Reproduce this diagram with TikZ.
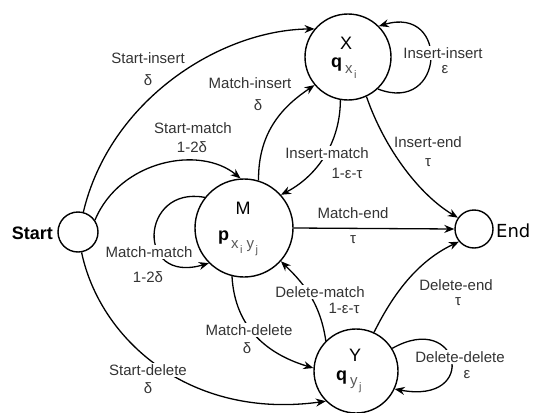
\documentclass[tikz,border=0pt]{standalone}
\usepackage{fontspec}
\setmainfont{Liberation Sans}
\newfontfamily\dejavu{DejaVu Sans}
\usetikzlibrary{arrows.meta}
\tikzset{
  state/.style={draw, circle, line width=1.4pt, inner sep=0pt},
  arr/.style={line width=1.3pt, -{Stealth[length=10pt,width=8pt]}},
  lab/.style={font=\fontsize{15}{15}\selectfont, text=black!80, fill=white, inner sep=1pt},
  big/.style={font=\fontsize{18}{18}\selectfont, inner sep=0pt},
}
\newcommand{\subA}[1]{{\fontsize{15}{15}\selectfont #1}}
\newcommand{\subB}[1]{\raisebox{-5pt}{\fontsize{11}{11}\selectfont #1}}
\begin{document}
\begin{tikzpicture}[x=1pt,y=-1pt]
\useasboundingbox (0,0) rectangle (537,412);
% states
\node[state, minimum size=40pt] (S) at (78,232) {};
\node[state, minimum size=38pt] (E) at (474,229) {};
\node[state, minimum size=98pt] (M) at (244,228) {};
\node[state, minimum size=86pt] (X) at (348,57) {};
\node[state, minimum size=84pt] (Y) at (356,371) {};
% state texts
\node[big, font=\fontsize{18}{18}\selectfont\bfseries, anchor=east] (St) at (53,233) {Start};
\node[big, font=\fontsize{18}{18}\dejavu, anchor=west] (Et) at (496,231) {End};
\node[big] (Mn) at (243,208) {M};
\node[big, anchor=base west] (Mp) at (218,240) {{\fontsize{18}{18}\selectfont\bfseries p}\hspace{2pt}\raisebox{-8pt}{\color{black!65}\subA{x}\hspace{1.5pt}\subB{i}\hspace{4pt}\subA{y}\hspace{1.5pt}\subB{j}}};
\node[big] (Xn) at (346,43) {X};
\node[big, anchor=base west] (Xq) at (331,67) {{\fontsize{18}{18}\selectfont\bfseries q}\hspace{3pt}\raisebox{-6pt}{\color{black!65}\subA{x}\hspace{1.5pt}\subB{i}}};
\node[big] (Yn) at (355,355) {Y};
\node[big, anchor=base west] (Yq) at (336,380) {{\fontsize{18}{18}\selectfont\bfseries q}\hspace{3pt}\raisebox{-5pt}{\color{black!65}\subA{y}\hspace{1.5pt}\subB{j}}};
% edges
\draw[arr] (S.75) .. controls (110,100) and (220,30) .. (X.140);
\draw[arr] (S.35) .. controls (120,160) and (200,145) .. (M.94);
\draw[arr] (M.142) .. controls (140,185) and (135,285) .. (M.225);
\draw[arr] (M.73) .. controls (258,130) and (285,105) .. (X.220);
\draw[arr] (X.260) .. controls (340,150) and (310,180) .. (M.42);
\draw[arr] (X.295) .. controls (385,150) and (420,195) .. (E.145);
\draw[arr] (X.313) .. controls (445,115) and (450,5) .. (X.45);
\draw[arr] (M.east) -- (E.west);
\draw[arr] (Y.135) .. controls (320,300) and (300,280) .. (M.318);
\draw[arr] (M.256) .. controls (235,330) and (270,355) .. (Y.176);
\draw[arr] (Y.65) .. controls (395,290) and (420,260) .. (E.220);
\draw[arr] (Y.32) .. controls (460,310) and (480,405) .. (Y.335);
\draw[arr] (S.280) .. controls (100,340) and (190,420) .. (Y.225);
% labels
\node[lab] (l1a) at (148,58) {Start-insert};
\node[lab] (l1b) at (148,80) {δ};
\node[lab] (l2a) at (193,128) {Start-match};
\node[lab] (l2b) at (192,147) {1-2δ};
\node[lab] (l3a) at (149,252) {Match-match};
\node[lab] (l3b) at (148,277) {1-2δ};
\node[lab] (l4a) at (250,83) {Match-insert};
\node[lab] (l4b) at (258,105) {δ};
\node[lab] (l5a) at (327,153) {Insert-match};
\node[lab] (l5b) at (347,173) {1-ε-τ};
\node[lab] (l6a) at (428,142) {Insert-end};
\node[lab] (l6b) at (428,163) {τ};
\node[lab] (l7a) at (443,53) {Insert-insert};
\node[lab] (l7b) at (445,70) {ε};
\node[lab] (l8a) at (353,213) {Match-end};
\node[lab] (l8b) at (353,240) {τ};
\node[lab] (l9a) at (320,292) {Delete-match};
\node[lab] (l9b) at (344,308) {1-ε-τ};
\node[lab] (l10a) at (249,330) {Match-delete};
\node[lab] (l10b) at (247,348) {δ};
\node[lab] (l11a) at (456,285) {Delete-end};
\node[lab] (l11b) at (458,302) {τ};
\node[lab] (l12a) at (460,357) {Delete-delete};
\node[lab] (l12b) at (467,375) {ε};
\node[lab] (l13a) at (148,370) {Start-delete};
\node[lab] (l13b) at (148,388) {δ};
\end{tikzpicture}
\end{document}
